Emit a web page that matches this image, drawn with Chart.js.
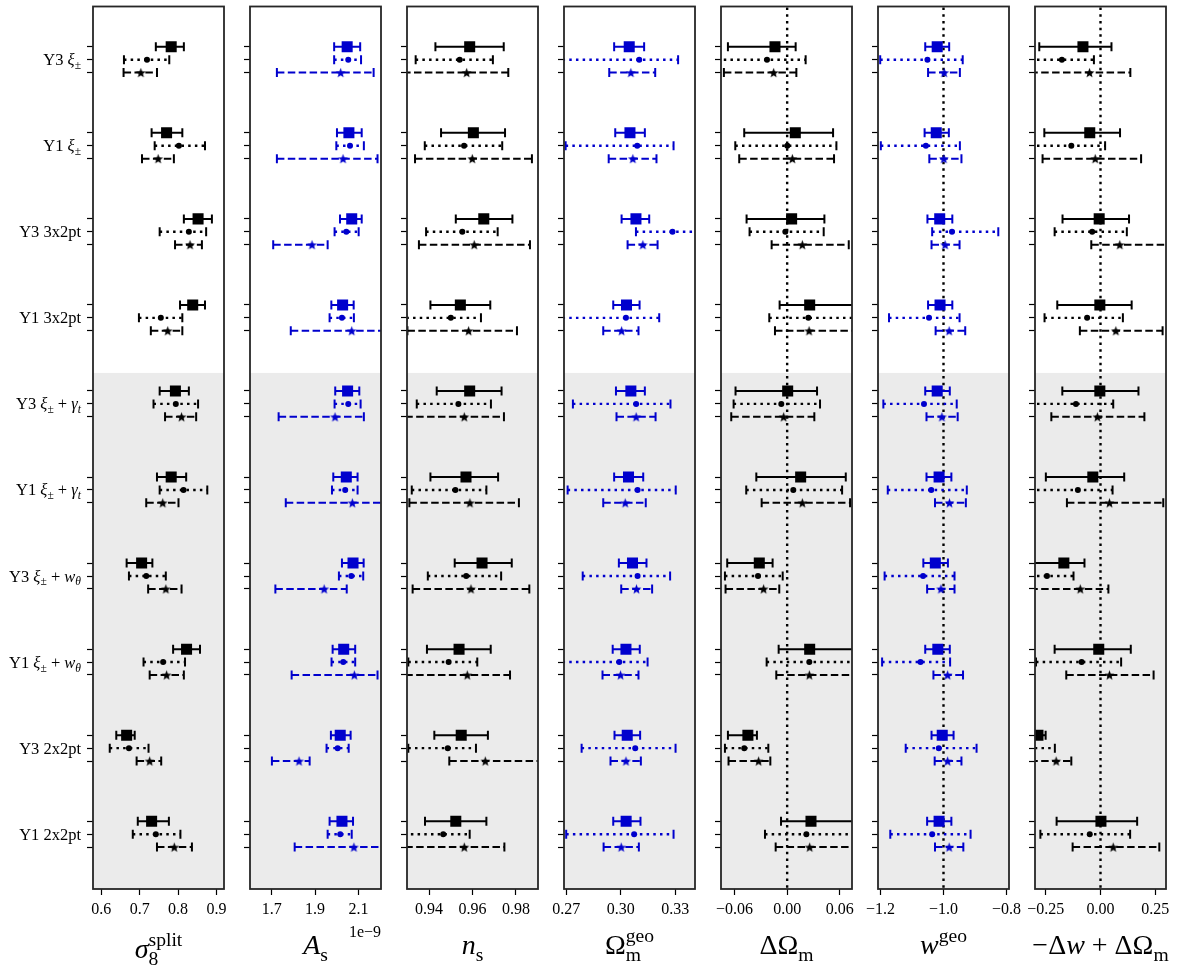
<!DOCTYPE html>
<html>
<head>
<meta charset="utf-8">
<script src="https://cdn.jsdelivr.net/npm/chart.js@4.4.0/dist/chart.umd.min.js"></script>
<style>
  html, body { margin: 0; padding: 0; background: #fff; }
  #wrap { position: relative; width: 1191px; height: 971px; overflow: hidden; }
  #wrap canvas { position: absolute; top: 0; }
</style>
</head>
<body>
<div id="wrap"></div>
<script>
// categories (top to bottom)
const categories = ['Y3 ξ±', 'Y1 ξ±', 'Y3 3x2pt', 'Y1 3x2pt', 'Y3 ξ± + γt', 'Y1 ξ± + γt',
                    'Y3 ξ± + wθ', 'Y1 ξ± + wθ', 'Y3 2x2pt', 'Y1 2x2pt'];

// every entry: [value, low, high]
// sigma8 split
const s8Square = [[0.782,0.742,0.815],[0.770,0.731,0.811],[0.852,0.815,0.888],[0.838,0.805,0.870],[0.793,0.752,0.828],
                  [0.782,0.745,0.821],[0.705,0.666,0.733],[0.822,0.787,0.857],[0.666,0.639,0.687],[0.731,0.695,0.776]];
const s8Circle = [[0.719,0.659,0.777],[0.802,0.739,0.870],[0.828,0.752,0.873],[0.755,0.698,0.811],[0.794,0.736,0.852],
                  [0.814,0.752,0.876],[0.717,0.672,0.768],[0.761,0.710,0.818],[0.672,0.622,0.723],[0.742,0.682,0.806]];
const s8Star   = [[0.703,0.658,0.745],[0.748,0.706,0.789],[0.831,0.792,0.862],[0.773,0.729,0.811],[0.809,0.766,0.847],
                  [0.760,0.717,0.801],[0.768,0.722,0.809],[0.770,0.726,0.815],[0.726,0.692,0.756],[0.790,0.745,0.836]];
// A_s (units of 1e-9)
const asSquare = [[2.048,1.988,2.108],[2.056,2.001,2.115],[2.069,2.015,2.115],[2.027,1.975,2.078],[2.050,1.993,2.104],
                  [2.044,1.984,2.096],[2.075,2.024,2.124],[2.032,1.981,2.085],[2.016,1.973,2.064],[2.024,1.967,2.075]];
const asCircle = [[2.053,1.988,2.112],[2.061,1.998,2.125],[2.044,1.990,2.101],[2.024,1.967,2.079],[2.053,1.990,2.110],
                  [2.039,1.978,2.096],[2.067,2.010,2.122],[2.030,1.976,2.085],[2.004,1.953,2.055],[2.016,1.958,2.069]];
const asStar   = [[2.018,1.724,2.170],[2.029,1.724,2.188],[1.886,1.707,1.958],[2.069,1.788,2.250],[1.992,1.732,2.125],
                  [2.072,1.765,2.270],[1.942,1.717,2.046],[2.081,1.792,2.188],[1.826,1.701,1.875],[2.079,1.806,2.270]];
// n_s
const nsSquare = [[0.9587,0.9429,0.9744],[0.9604,0.9455,0.9750],[0.9652,0.9523,0.9784],[0.9544,0.9406,0.9682],[0.9587,0.9435,0.9734],
                  [0.9570,0.9406,0.9718],[0.9644,0.9518,0.9781],[0.9538,0.9390,0.9684],[0.9548,0.9424,0.9671],[0.9523,0.9381,0.9664]];
const nsCircle = [[0.9541,0.9338,0.9694],[0.9561,0.9380,0.9737],[0.9553,0.9386,0.9716],[0.9500,0.9295,0.9639],[0.9535,0.9343,0.9685],
                  [0.9521,0.9320,0.9664],[0.9571,0.9394,0.9732],[0.9490,0.9304,0.9622],[0.9486,0.9304,0.9616],[0.9465,0.9285,0.9587]];
const nsStar   = [[0.9573,0.9280,0.9765],[0.9599,0.9335,0.9874],[0.9608,0.9353,0.9865],[0.9582,0.9300,0.9805],[0.9562,0.9290,0.9745],
                  [0.9588,0.9309,0.9814],[0.9593,0.9324,0.9862],[0.9576,0.9290,0.9773],[0.9659,0.9493,0.9950],[0.9562,0.9290,0.9747]];
// Omega_m geo
const omSquare = [[0.3047,0.2964,0.3129],[0.3051,0.2970,0.3133],[0.3084,0.3005,0.3157],[0.3032,0.2959,0.3104],[0.3056,0.2974,0.3133],
                  [0.3043,0.2964,0.3124],[0.3065,0.2990,0.3142],[0.3029,0.2956,0.3105],[0.3036,0.2966,0.3107],[0.3030,0.2959,0.3109]];
const omCircle = [[0.3102,0.2680,0.3316],[0.3091,0.2697,0.3291],[0.3285,0.3084,0.3450],[0.3029,0.2680,0.3212],[0.3085,0.2737,0.3274],
                  [0.3093,0.2708,0.3303],[0.3093,0.2791,0.3272],[0.2992,0.2680,0.3148],[0.3080,0.2785,0.3302],[0.3074,0.2700,0.3291]];
const omStar   = [[0.3056,0.2937,0.3190],[0.3067,0.2934,0.3197],[0.3122,0.3038,0.3203],[0.3005,0.2904,0.3098],[0.3085,0.2977,0.3192],
                  [0.3025,0.2904,0.3138],[0.3087,0.3003,0.3173],[0.2999,0.2900,0.3098],[0.3029,0.2944,0.3111],[0.3003,0.2906,0.3100]];
// Delta Omega_m
const dOmSquare = [[-0.0139,-0.0676,0.0097],[0.0093,-0.0490,0.0524],[0.0051,-0.0463,0.0425],[0.0257,-0.0086,0.0850],[0.0006,-0.0589,0.0341],
                   [0.0154,-0.0352,0.0669],[-0.0318,-0.0684,-0.0166],[0.0257,-0.0097,0.0850],[-0.0448,-0.0676,-0.0345],[0.0272,-0.0070,0.0850]];
const dOmCircle = [[-0.0230,-0.0800,0.0211],[0.0002,-0.0592,0.0562],[-0.0021,-0.0429,0.0417],[0.0242,-0.0204,0.0850],[-0.0067,-0.0611,0.0375],
                   [0.0070,-0.0467,0.0627],[-0.0333,-0.0710,-0.0051],[0.0253,-0.0234,0.0850],[-0.0490,-0.0710,-0.0215],[0.0219,-0.0253,0.0850]];
const dOmStar   = [[-0.0154,-0.0722,0.0105],[0.0059,-0.0547,0.0535],[0.0173,-0.0177,0.0703],[0.0250,-0.0139,0.0850],[-0.0040,-0.0638,0.0310],
                   [0.0173,-0.0291,0.0718],[-0.0269,-0.0703,-0.0090],[0.0253,-0.0124,0.0850],[-0.0326,-0.0669,-0.0192],[0.0257,-0.0131,0.0850]];
// w geo
const wSquare = [[-1.020,-1.058,-0.982],[-1.023,-1.060,-0.983],[-1.012,-1.051,-0.972],[-1.011,-1.049,-0.972],[-1.020,-1.058,-0.980],
                 [-1.014,-1.054,-0.975],[-1.026,-1.064,-0.986],[-1.018,-1.058,-0.980],[-1.004,-1.038,-0.968],[-1.014,-1.052,-0.975]];
const wCircle = [[-1.051,-1.201,-0.939],[-1.056,-1.199,-0.948],[-0.973,-1.036,-0.826],[-1.046,-1.173,-0.949],[-1.062,-1.191,-0.958],
                 [-1.039,-1.177,-0.926],[-1.065,-1.187,-0.965],[-1.073,-1.195,-0.979],[-1.015,-1.120,-0.895],[-1.036,-1.169,-0.914]];
const wStar   = [[-0.998,-1.049,-0.948],[-0.999,-1.045,-0.943],[-0.995,-1.038,-0.949],[-0.982,-1.025,-0.931],[-1.005,-1.054,-0.955],
                 [-0.981,-1.027,-0.929],[-1.008,-1.052,-0.965],[-0.987,-1.032,-0.938],[-0.987,-1.028,-0.943],[-0.982,-1.027,-0.937]];
// -Delta w + Delta Omega_m
const dwSquare = [[-0.080,-0.279,0.050],[-0.049,-0.256,0.089],[-0.006,-0.173,0.130],[-0.003,-0.197,0.142],[-0.003,-0.174,0.173],
                  [-0.035,-0.249,0.108],[-0.167,-0.320,-0.073],[-0.008,-0.209,0.138],[-0.285,-0.320,-0.250],[0.002,-0.200,0.167]];
const dwCircle = [[-0.176,-0.320,-0.030],[-0.133,-0.320,0.021],[-0.038,-0.209,0.120],[-0.061,-0.255,0.102],[-0.112,-0.320,0.058],
                  [-0.103,-0.320,0.055],[-0.244,-0.320,-0.123],[-0.086,-0.294,0.094],[-0.330,-0.450,-0.208],[-0.049,-0.274,0.135]];
const dwStar   = [[-0.050,-0.320,0.136],[-0.024,-0.264,0.185],[0.088,-0.042,0.310],[0.070,-0.094,0.283],[-0.014,-0.224,0.200],
                  [0.041,-0.153,0.286],[-0.092,-0.320,0.036],[0.041,-0.156,0.242],[-0.202,-0.320,-0.133],[0.058,-0.127,0.268]];

// x tick values and labels
const s8Ticks = [0.6, 0.7, 0.8, 0.9];      const s8TickLabels = ['0.6', '0.7', '0.8', '0.9'];
const asTicks = [1.7, 1.9, 2.1];           const asTickLabels = ['1.7', '1.9', '2.1'];
const nsTicks = [0.94, 0.96, 0.98];        const nsTickLabels = ['0.94', '0.96', '0.98'];
const omTicks = [0.27, 0.30, 0.33];        const omTickLabels = ['0.27', '0.30', '0.33'];
const dOmTicks = [-0.06, 0, 0.06];         const dOmTickLabels = ['\u22120.06', '0.00', '0.06'];
const wTicks = [-1.2, -1.0, -0.8];         const wTickLabels = ['\u22121.2', '\u22121.0', '\u22120.8'];
const dwTicks = [-0.25, 0, 0.25];          const dwTickLabels = ['\u22120.25', '0.00', '0.25'];

const BLUE = '#0000cd';
const FONT = '"Liberation Serif", "Times New Roman", serif';
const GRAY_START = 3.64;
const Y_MIN = -0.618, Y_MAX = 9.637, ROW_OFF = 0.15;

// panel setup
const panels = [
  { sq: s8Square, ci: s8Circle, st: s8Star, min: 0.5784, max: 0.9195, ticks: s8Ticks, tickLabels: s8TickLabels, color: '#000', ref: null,
    title: [{t: 'σ', it: 1}, {t: '8', sub: 1}, {t: 'split', sup: 1, stack: 1}], titleDy: 69 },
  { sq: asSquare, ci: asCircle, st: asStar, min: 1.6, max: 2.204, ticks: asTicks, tickLabels: asTickLabels, color: BLUE, ref: null,
    title: [{t: 'A', it: 1}, {t: 's', sub: 1}], titleDy: 65, offsetText: '1e\u22129' },
  { sq: nsSquare, ci: nsCircle, st: nsStar, min: 0.9298, max: 0.9902, ticks: nsTicks, tickLabels: nsTickLabels, color: '#000', ref: null,
    title: [{t: 'n', it: 1}, {t: 's', sub: 1}], titleDy: 65 },
  { sq: omSquare, ci: omCircle, st: omStar, min: 0.2688, max: 0.3409, ticks: omTicks, tickLabels: omTickLabels, color: BLUE, ref: null,
    title: [{t: 'Ω'}, {t: 'm', sub: 1}, {t: 'geo', sup: 1, stack: 1}], titleDy: 65 },
  { sq: dOmSquare, ci: dOmCircle, st: dOmStar, min: -0.0755, max: 0.074, ticks: dOmTicks, tickLabels: dOmTickLabels, color: '#000', ref: 0,
    title: [{t: 'ΔΩ'}, {t: 'm', sub: 1}], titleDy: 65 },
  { sq: wSquare, ci: wCircle, st: wStar, min: -1.208, max: -0.792, ticks: wTicks, tickLabels: wTickLabels, color: BLUE, ref: -1,
    title: [{t: 'w', it: 1}, {t: 'geo', sup: 1}], titleDy: 65 },
  { sq: dwSquare, ci: dwCircle, st: dwStar, min: -0.2985, max: 0.2985, ticks: dwTicks, tickLabels: dwTickLabels, color: '#000', ref: 0,
    title: [{t: '\u2212Δ'}, {t: 'w', it: 1}, {t: ' + ΔΩ'}, {t: 'm', sub: 1}], titleDy: 65 },
];

const yTicks = [];
categories.forEach((c, i) => yTicks.push(i - ROW_OFF, i, i + ROW_OFF));

// filled five-point star used as a point style
function starImage(color, r) {
  const c = document.createElement('canvas');
  const s = Math.ceil(2 * r + 2);
  c.width = c.height = s;
  const g = c.getContext('2d');
  g.fillStyle = color;
  g.beginPath();
  for (let i = 0; i < 10; i++) {
    const rad = i % 2 ? r * 0.42 : r;
    const a = -Math.PI / 2 + i * Math.PI / 5;
    g.lineTo(s / 2 + rad * Math.cos(a), s / 2 + 0.5 + rad * Math.sin(a));
  }
  g.closePath();
  g.fill();
  return c;
}

function drawRich(ctx, parts, x, y, size, align) {
  const items = parts.map(p => {
    const fs = (p.sub || p.sup) ? size * 0.7 : size;
    const font = (p.it ? 'italic ' : '') + fs + 'px ' + FONT;
    ctx.font = font;
    return { p, font, w: ctx.measureText(p.t).width };
  });
  let cx = 0, lastX = 0;
  items.forEach(it => {
    if (it.p.stack) { it.x = lastX; cx = Math.max(cx, lastX + it.w); }
    else { it.x = cx; lastX = cx; cx += it.w; }
  });
  const x0 = align === 'right' ? x - cx : align === 'center' ? x - cx / 2 : x;
  ctx.textAlign = 'left';
  ctx.textBaseline = 'alphabetic';
  ctx.fillStyle = '#000';
  items.forEach(it => {
    ctx.font = it.font;
    const dy = it.p.sub ? size * 0.24 : it.p.sup ? -size * 0.42 : 0;
    ctx.fillText(it.p.t, x0 + it.x, y + dy);
  });
}

function richLabel(s) {
  const parts = [];
  let prevMath = false;
  [...s].forEach(ch => {
    if (prevMath && '±tθ'.includes(ch)) {
      parts.push({ t: ch, sub: 1, it: ch !== '±' });
      prevMath = false;
      return;
    }
    const math = 'ξγw'.includes(ch);
    parts.push({ t: ch, it: math });
    prevMath = math;
  });
  return parts;
}

function barDataset(v, y, kind, color) {
  return {
    type: 'line',
    data: [{ x: v[1], y }, { x: v[0], y }, { x: v[2], y }],
    borderColor: color,
    backgroundColor: color,
    borderWidth: kind.width,
    borderDash: kind.dash,
    pointStyle: ['line', kind.marker, 'line'],
    pointRotation: [90, 0, 90],
    pointRadius: [4.5, kind.radius, 4.5],
    pointBorderWidth: [2, 0, 2],
    pointBackgroundColor: color,
    pointBorderColor: color,
    clip: 0,
    order: 1,
  };
}

const panelPlugin = {
  id: 'panelDeco',
  beforeDatasetsDraw(chart) {
    const { ctx, chartArea: a, scales: { y } } = chart;
    const top = y.getPixelForValue(GRAY_START);
    ctx.save();
    ctx.fillStyle = '#ebebeb';
    ctx.fillRect(a.left, top, a.right - a.left, a.bottom - top);
    ctx.restore();
  },
  afterDraw(chart) {
    const { ctx, chartArea: a, scales: { y } } = chart;
    const p = chart.options.plugins.panelDeco;
    ctx.save();
    ctx.strokeStyle = '#262626';
    ctx.lineWidth = 1.8;
    ctx.strokeRect(a.left, a.top, a.right - a.left, a.bottom - a.top);
    if (p.first) {
      categories.forEach((c, i) => {
        drawRich(ctx, richLabel(c), a.left - 12, y.getPixelForValue(i) + 5.5, 16.5, 'right');
      });
    }
    drawRich(ctx, p.title, (a.left + a.right) / 2, a.bottom + p.titleDy, 28, 'center');
    if (p.offsetText) {
      drawRich(ctx, [{ t: p.offsetText }], a.right, a.bottom + 48, 16, 'right');
    }
    ctx.restore();
  }
};

const wrap = document.getElementById('wrap');
panels.forEach((p, k) => {
  const L = k === 0 ? 93 : 26, R = 22;
  const canvas = document.createElement('canvas');
  canvas.width = L + 131 + R;
  canvas.height = 971;
  canvas.style.left = (93 + 157 * k - L) + 'px';
  wrap.appendChild(canvas);

  const star = starImage(p.color, 5.2);
  const kinds = {
    sq: { dash: [], marker: 'rect', radius: 7.8, width: 2 },
    ci: { dash: [2.5, 4.2], marker: 'circle', radius: 3, width: 2.4 },
    st: { dash: [7.5, 3.4], marker: star, radius: 5, width: 2 },
  };
  const datasets = [];
  categories.forEach((c, i) => {
    datasets.push(barDataset(p.sq[i], i - ROW_OFF, kinds.sq, p.color));
    datasets.push(barDataset(p.ci[i], i, kinds.ci, p.color));
    datasets.push(barDataset(p.st[i], i + ROW_OFF, kinds.st, p.color));
  });
  if (p.ref !== null) {
    datasets.push({
      type: 'line',
      data: [{ x: p.ref, y: Y_MIN - 1 }, { x: p.ref, y: Y_MAX + 1 }],
      borderColor: '#000', borderWidth: 2.4, borderDash: [2.5, 4.2],
      pointRadius: 0, clip: 0, order: 100,
    });
  }

  const gridOpts = { drawOnChartArea: false, drawTicks: true, tickLength: 6, tickWidth: 1.2, tickColor: '#000' };
  new Chart(canvas, {
    type: 'line',
    data: { datasets },
    options: {
      responsive: false,
      animation: false,
      devicePixelRatio: 1,
      events: [],
      layout: { padding: { left: 0, right: R, top: 4, bottom: 0 } },
      plugins: {
        legend: { display: false },
        tooltip: { enabled: false },
        panelDeco: { first: k === 0, title: p.title, titleDy: p.titleDy, offsetText: p.offsetText },
      },
      scales: {
        x: {
          type: 'linear', position: 'bottom', min: p.min, max: p.max,
          afterBuildTicks: s => { s.ticks = p.ticks.map(v => ({ value: v })); },
          afterFit: s => { s.height = 82; },
          ticks: {
            autoSkip: false, maxRotation: 0, padding: 5, color: '#000',
            font: { family: FONT, size: 16 },
            callback: (v, i) => p.tickLabels[i],
          },
          grid: gridOpts,
          border: { display: false },
        },
        y: {
          type: 'linear', min: Y_MIN, max: Y_MAX, reverse: true,
          afterBuildTicks: s => { s.ticks = yTicks.map(v => ({ value: v })); },
          afterFit: s => { s.width = L; },
          ticks: { display: false },
          grid: gridOpts,
          border: { display: false },
        },
      },
    },
    plugins: [panelPlugin],
  });
});
</script>
</body>
</html>
